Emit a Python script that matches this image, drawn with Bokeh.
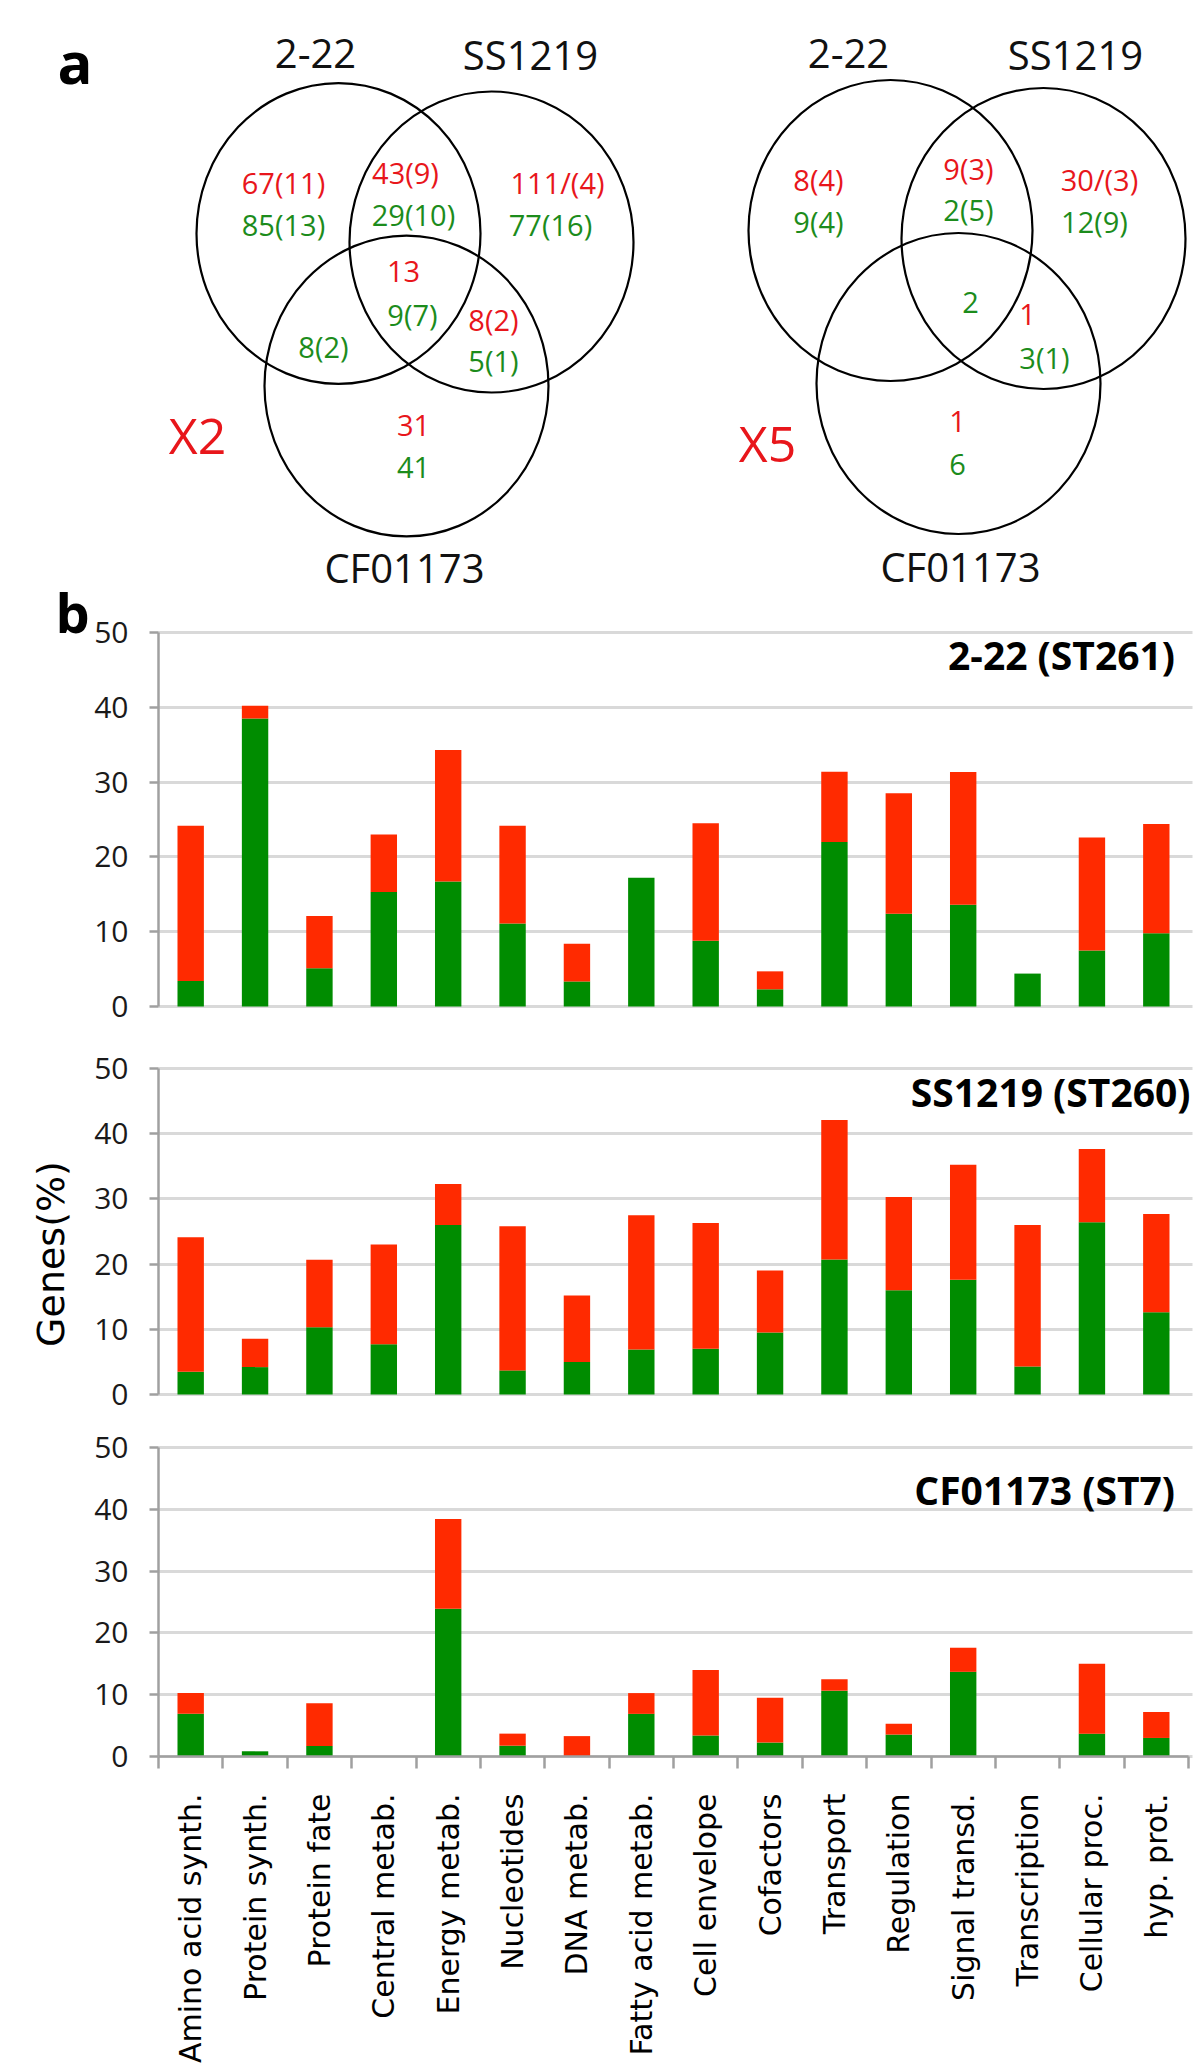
import math
from bokeh.plotting import figure
from bokeh.models import (ColumnDataSource, Range1d, FixedTicker, LinearAxis, Grid, Label)
from bokeh.layouts import column
from bokeh.embed import file_html
from bokeh.resources import INLINE
from bokeh.core.properties import value

# ---------------- data ----------------
categories = ["Amino acid synth.", "Protein synth.", "Protein fate", "Central metab.",
              "Energy metab.", "Nucleotides", "DNA metab.", "Fatty acid metab.",
              "Cell envelope", "Cofactors", "Transport", "Regulation",
              "Signal transd.", "Transcription", "Cellular proc.", "hyp. prot."]

# 2-22 (ST261)
green_222 = [3.4, 38.5, 5.1, 15.3, 16.7, 11.1, 3.35, 17.2, 8.8, 2.3, 22.0, 12.4, 13.6, 4.4, 7.5, 9.8]
red_222 = [20.75, 1.7, 7.0, 7.7, 17.6, 13.05, 5.05, 0.0, 15.7, 2.4, 9.4, 16.1, 17.75, 0.0, 15.1, 14.6]
# SS1219 (ST260)
green_ss = [3.5, 4.2, 10.3, 7.7, 26.0, 3.7, 5.0, 6.9, 7.0, 9.5, 20.7, 16.0, 17.6, 4.3, 26.4, 12.6]
red_ss = [20.6, 4.35, 10.35, 15.3, 6.3, 22.1, 10.2, 20.6, 19.3, 9.5, 21.4, 14.3, 17.65, 21.7, 11.25, 15.1]
# CF01173 (ST7)
green_cf = [6.9, 0.84, 1.7, 0.0, 23.9, 1.75, 0.0, 6.9, 3.4, 2.26, 10.65, 3.55, 13.7, 0.0, 3.7, 3.0]
red_cf = [3.36, 0.0, 6.9, 0.0, 14.55, 1.95, 3.3, 3.36, 10.6, 7.24, 1.85, 1.75, 3.9, 0.0, 11.3, 4.2]

y_ticks = [0, 10, 20, 30, 40, 50]
panel_titles = ["2-22 (ST261)", "SS1219 (ST260)", "CF01173 (ST7)"]

set_names = ["2-22", "SS1219", "CF01173"]
# Venn region counts, order: A only, A&B, B only, A&B&C, B&C, A&C, C only
x2_red = ["67(11)", "43(9)", "111/(4)", "13", "8(2)", "", "31"]
x2_green = ["85(13)", "29(10)", "77(16)", "9(7)", "5(1)", "8(2)", "41"]
x5_red = ["8(4)", "9(3)", "30/(3)", "", "1", "", "1"]
x5_green = ["9(4)", "2(5)", "12(9)", "2", "3(1)", "", "6"]
venn_tags = ["X2", "X5"]

# ---------------- styles / layout (pixels) ----------------
GREEN = "#008C00"
RED = "#FF2A00"
TXT_RED = "#E8161B"
TXT_GREEN = "#1C8C1C"
AX = "#A0A0A0"
GRID = "#D9D9D9"
W = 1200
AX_LEFT = 158          # y axis position
AX_RIGHT = 1188        # end of category axis
NCAT = len(categories)
PX_CAT = (AX_RIGHT - AX_LEFT) / NCAT


def px2x(px):
    return (px - AX_LEFT) / PX_CAT


# ---------------- Venn diagrams ----------------
VH = 538
venn = figure(width=W, height=VH, x_range=Range1d(0, W), y_range=Range1d(VH, 0),
              x_axis_type=None, y_axis_type=None, toolbar_location=None,
              output_backend="svg", min_border=0, outline_line_color=None)
venn.grid.visible = False

circ = ColumnDataSource(dict(x=[338, 491, 406, 890, 1043, 958],
                             y=[233, 241.5, 385.5, 230, 238, 383]))
venn.ellipse(x="x", y="y", width=284, height=301, source=circ,
             fill_color=None, line_color="black", line_width=2.2)

name_pos_x = [315, 530, 848, 1075]
name_pos_y = [53, 53.5, 53, 53.5]
venn.text(x=name_pos_x, y=name_pos_y, text=set_names[:2] + set_names[:2],
          text_font=value("Open Sans"), text_font_size=value("40px"),
          text_color="#111111", text_align="center", text_baseline="middle")

left_red_x = [283, 405, 557, 403, 493, 0, 413]
left_red_y = [182, 172, 182, 270.7, 319, 0, 425]
left_green_x = [283, 413, 550, 412, 493, 323, 413]
left_green_y = [224.4, 214, 224.4, 314, 359.6, 346, 467]
right_red_x = [818, 968, 1099, 0, 1027, 0, 957]
right_red_y = [178.6, 168, 178.6, 0, 314.3, 0, 421.4]
right_green_x = [818, 968, 1094, 970, 1044, 0, 957]
right_green_y = [221.4, 209, 221.4, 301.8, 357, 0, 464.3]

for txts, xs, ys, col in [(x2_red, left_red_x, left_red_y, TXT_RED),
                          (x2_green, left_green_x, left_green_y, TXT_GREEN),
                          (x5_red, right_red_x, right_red_y, TXT_RED),
                          (x5_green, right_green_x, right_green_y, TXT_GREEN)]:
    keep = [i for i, t in enumerate(txts) if t]
    venn.text(x=[xs[i] for i in keep], y=[ys[i] for i in keep], text=[txts[i] for i in keep],
              text_font=value("Open Sans"), text_font_size=value("29px"),
              text_color=col, text_align="center", text_baseline="middle")

venn.text(x=[197, 767], y=[434, 442], text=venn_tags,
          text_font=value("Open Sans"), text_font_size=value("50px"),
          text_color=TXT_RED, text_align="center", text_baseline="middle")

venn.text(x=[57], y=[60.5], text=["a"], text_font=value("Open Sans"),
          text_font_style="bold", text_font_size=value("58px"),
          text_color="black", text_align="left", text_baseline="middle")


# ---------------- bar panels ----------------
def panel(green, red, height, top_px, zero_px, y50_px):
    """top_px: page y of the canvas top; zero_px / y50_px: page y of the 0 and 50 lines."""
    ppu = (zero_px - y50_px) / 50.0
    y_hi = 50 + (y50_px - top_px) / ppu
    y_lo = -(top_px + height - zero_px) / ppu
    src = ColumnDataSource(dict(x=[i + 0.5 for i in range(NCAT)], green=green, red=red))
    p = figure(width=W, height=height, x_range=Range1d(px2x(0), px2x(W)),
               y_range=Range1d(y_lo, y_hi), toolbar_location=None, output_backend="svg",
               x_axis_location=None, y_axis_location=None, min_border=0,
               outline_line_color=None)
    for g in p.grid:
        g.visible = False
    p.vbar_stack(["green", "red"], x="x", width=0.41, source=src,
                 fill_color=[GREEN, RED], line_color=None)
    grid = Grid(dimension=1, ticker=FixedTicker(ticks=y_ticks), grid_line_color=GRID,
                grid_line_width=3)
    try:
        grid.cross_bounds = (0, px2x(AX_RIGHT + 4))
    except Exception:
        pass
    p.add_layout(grid)
    ya = LinearAxis(fixed_location=0, bounds=(0, 50), ticker=FixedTicker(ticks=y_ticks),
                    axis_line_color=AX, axis_line_width=2.5, major_tick_line_color=AX,
                    major_tick_line_width=2.5, major_tick_in=0, major_tick_out=9,
                    minor_tick_line_color=None, major_label_standoff=21,
                    major_label_text_font="Open Sans", major_label_text_font_size="30px",
                    major_label_text_color="#1a1a1a")
    p.add_layout(ya, "left")
    return p, (lambda py: 50 - (py - y50_px) / ppu)


p1, py1 = panel(green_222, red_222, 502, 538, 1006, 632)
p2, py2 = panel(green_ss, red_ss, 385, 1040, 1394, 1068)
p3, py3 = panel(green_cf, red_cf, 642, 1425, 1756, 1447)

title_style = dict(text_align="right", text_baseline="middle", text_font="Open Sans",
                   text_font_style="bold", text_font_size="39px", text_color="black")
p1.add_layout(Label(x=px2x(1174.5), y=py1(654), text=panel_titles[0], **title_style))
p2.add_layout(Label(x=px2x(1190), y=py2(1090.7), text=panel_titles[1], **title_style))
p3.add_layout(Label(x=px2x(1174.5), y=py3(1489), text=panel_titles[2], **title_style))

# Venn bottom set names (drawn on the first bar panel's canvas)
for nx, ny in [(404, 567), (960, 566)]:
    p1.add_layout(Label(x=px2x(nx), y=py1(ny), text=set_names[2], text_align="center",
                        text_baseline="middle", text_font="Open Sans",
                        text_font_size="40px", text_color="#111111"))

p1.add_layout(Label(x=px2x(55), y=py1(611), text="b", text_align="left",
                    text_baseline="middle", text_font="Open Sans",
                    text_font_style="bold", text_font_size="54px", text_color="black"))

p2.add_layout(Label(x=px2x(50), y=py2(1253.5), text="Genes(%)", angle=math.pi / 2,
                    text_align="center", text_baseline="middle", text_font="DejaVu Sans",
                    text_font_size="38px", text_color="black"))

xa = LinearAxis(fixed_location=0, bounds=(0, NCAT),
                ticker=FixedTicker(ticks=[i + 0.5 for i in range(NCAT)],
                                   minor_ticks=list(range(NCAT + 1))),
                major_label_overrides={i + 0.5: c for i, c in enumerate(categories)},
                major_label_orientation=math.pi / 2,
                major_label_text_font="DejaVu Sans", major_label_text_font_size="30px",
                major_label_text_color="black", major_label_standoff=25,
                axis_line_color=AX, axis_line_width=2.5,
                major_tick_line_color=None, major_tick_in=0, major_tick_out=0,
                minor_tick_line_color=AX, minor_tick_line_width=2.5,
                minor_tick_in=0, minor_tick_out=12)
p3.add_layout(xa, "below")

layout = column(venn, p1, p2, p3, spacing=0)
open("out.html", "w").write(file_html(layout, INLINE))
